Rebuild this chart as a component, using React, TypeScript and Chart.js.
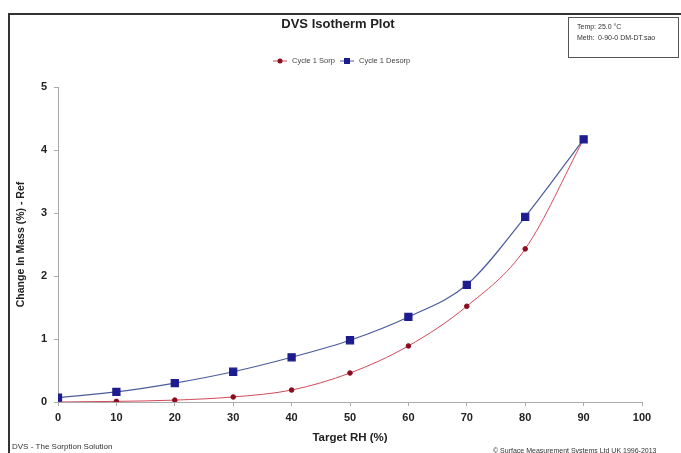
import React, { useEffect, useRef } from "react";
import { Chart, registerables } from "chart.js";

Chart.register(...registerables);

const rhLevels = [0, 10, 20, 30, 40, 50, 60, 70, 80, 90];
const sorpValues = [0.0, 0.01, 0.03, 0.08, 0.19, 0.46, 0.89, 1.52, 2.43, 4.17];
const desorpValues = [0.07, 0.16, 0.3, 0.48, 0.71, 0.98, 1.35, 1.86, 2.94, 4.17];
const seriesNames = ["Cycle 1 Sorp", "Cycle 1 Desorp"];
const chartTitle = "DVS Isotherm Plot";
const infoLines = [
  ["Temp:", "25.0 °C"],
  ["Meth:", "0-90-0 DM-DT.sao"],
];
const footerLeft = "DVS - The Sorption Solution";
const footerRight = "© Surface Measurement Systems Ltd UK 1996-2013";

const FONT = "'Liberation Sans', Arial, sans-serif";
const SORP_LINE = "#d24a5c";
const SORP_POINT = "#8a0c1e";
const DESORP_LINE = "#4c5c9c";
const DESORP_POINT = "#1c1c8e";

const decorPlugin = {
  id: "decor",
  beforeDraw(chart: any) {
    const ctx = chart.ctx;
    ctx.save();
    ctx.fillStyle = "#ffffff";
    ctx.fillRect(0, 0, chart.width, chart.height);
    ctx.strokeStyle = "#333333";
    ctx.lineWidth = 2;
    ctx.beginPath();
    ctx.moveTo(9, 460);
    ctx.lineTo(9, 14);
    ctx.lineTo(690, 14);
    ctx.stroke();
    ctx.restore();
  },
  afterDraw(chart: any) {
    const ctx = chart.ctx;
    ctx.save();
    // Title
    ctx.fillStyle = "#222";
    ctx.font = `bold 13px ${FONT}`;
    ctx.textAlign = "center";
    ctx.textBaseline = "middle";
    ctx.fillText(chartTitle, 338, 24);
    // Info box
    ctx.strokeStyle = "#555";
    ctx.lineWidth = 1;
    ctx.strokeRect(568.5, 17.5, 110, 40);
    ctx.font = `7px ${FONT}`;
    ctx.textAlign = "left";
    ctx.fillStyle = "#333";
    infoLines.forEach((l, i) => {
      ctx.fillText(l[0], 577, 27 + i * 11);
      ctx.fillText(l[1], 598, 27 + i * 11);
    });
    // Legend
    const legendItems = [
      { x: 273, line: SORP_LINE, pt: SORP_POINT, square: false, name: seriesNames[0] },
      { x: 340, line: DESORP_LINE, pt: DESORP_POINT, square: true, name: seriesNames[1] },
    ];
    const ly = 61;
    legendItems.forEach((it) => {
      ctx.strokeStyle = it.line;
      ctx.lineWidth = 1;
      ctx.beginPath();
      ctx.moveTo(it.x, ly);
      ctx.lineTo(it.x + 14, ly);
      ctx.stroke();
      ctx.fillStyle = it.pt;
      if (it.square) {
        ctx.fillRect(it.x + 4, ly - 3, 6, 6);
      } else {
        ctx.beginPath();
        ctx.arc(it.x + 7, ly, 2.5, 0, Math.PI * 2);
        ctx.fill();
      }
      ctx.fillStyle = "#444";
      ctx.font = `7.5px ${FONT}`;
      ctx.fillText(it.name, it.x + 19, ly);
    });
    // Footers
    ctx.font = `8px ${FONT}`;
    ctx.fillStyle = "#333";
    ctx.fillText(footerLeft, 12, 447);
    ctx.font = `7px ${FONT}`;
    ctx.fillText(footerRight, 493, 451);
    ctx.restore();
  },
};

export default function App() {
  const ref = useRef<HTMLCanvasElement | null>(null);
  useEffect(() => {
    if (!ref.current) return;
    const chart = new Chart(ref.current, {
      type: "line",
      data: {
        datasets: [
          {
            label: seriesNames[0],
            data: rhLevels.map((x, i) => ({ x, y: sorpValues[i] })),
            borderColor: SORP_LINE,
            backgroundColor: SORP_POINT,
            pointBackgroundColor: SORP_POINT,
            pointBorderColor: SORP_POINT,
            pointStyle: "circle",
            pointRadius: 2.3,
            borderWidth: 1,
            cubicInterpolationMode: "monotone",
            order: 1,
          },
          {
            label: seriesNames[1],
            data: rhLevels.map((x, i) => ({ x, y: desorpValues[i] })),
            borderColor: DESORP_LINE,
            backgroundColor: DESORP_POINT,
            pointBackgroundColor: DESORP_POINT,
            pointBorderColor: DESORP_POINT,
            pointStyle: "rect",
            pointRadius: 5,
            borderWidth: 1.2,
            cubicInterpolationMode: "monotone",
            order: 0,
          },
        ],
      },
      options: {
        responsive: false,
        animation: false,
        layout: { padding: { left: 0, right: 39, top: 87, bottom: 0 } },
        plugins: {
          legend: { display: false },
          title: { display: false },
          tooltip: { enabled: false },
        },
        scales: {
          x: {
            type: "linear",
            min: 0,
            max: 100,
            ticks: {
              stepSize: 10,
              color: "#222",
              font: { family: FONT, size: 11, weight: "bold" },
              padding: 5,
              maxRotation: 0,
            },
            grid: { drawOnChartArea: false, tickLength: 4, color: "#aaa" },
            border: { color: "#aaa" },
            title: {
              display: true,
              text: "Target RH (%)",
              color: "#222",
              font: { family: FONT, size: 11.5, weight: "bold" },
              padding: { top: 0, bottom: 8 },
            },
            afterFit(scale: any) {
              scale.height = 51;
            },
          },
          y: {
            type: "linear",
            min: 0,
            max: 5,
            ticks: {
              stepSize: 1,
              color: "#222",
              font: { family: FONT, size: 11, weight: "bold" },
              padding: 7,
            },
            grid: { drawOnChartArea: false, tickLength: 4, color: "#aaa" },
            border: { color: "#aaa" },
            title: {
              display: true,
              text: "Change In Mass (%) - Ref",
              color: "#222",
              font: { family: FONT, size: 10.5, weight: "bold" },
              padding: { top: 15, bottom: 0 },
            },
            afterFit(scale: any) {
              scale.width = 58;
            },
          },
        },
      },
      plugins: [decorPlugin],
    } as any);
    return () => chart.destroy();
  }, []);
  return (
    <div style={{ position: "fixed", left: 0, top: 0, width: 681, height: 453 }}>
      <canvas ref={ref} width={681} height={453} style={{ display: "block" }} />
    </div>
  );
}
